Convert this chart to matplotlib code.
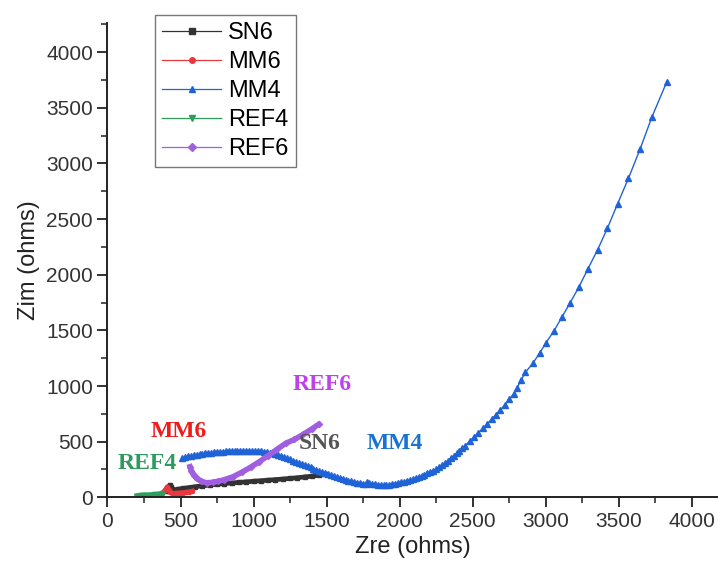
"""Nyquist plot (Zre vs Zim) for five impedance samples."""

import matplotlib

matplotlib.use("Agg")
import matplotlib.pyplot as plt  # noqa: E402
from matplotlib.lines import Line2D  # noqa: E402
from matplotlib.ticker import MultipleLocator  # noqa: E402

plt.rcParams["font.family"] = ["Liberation Sans", "DejaVu Sans"]

# --- data (ohms) ---
sn6_zre = [405, 415, 425, 432, 440, 455, 480, 520, 560, 600, 650, 700, 750, 800, 850,
           900, 950, 1000, 1050, 1100, 1150, 1200, 1250, 1300, 1350, 1400, 1450, 1490]
sn6_zim = [55, 85, 108, 90, 72, 66, 72, 80, 88, 95, 103, 110, 117, 123, 129,
           134, 139, 144, 149, 154, 159, 164, 170, 176, 183, 190, 198, 207]

mm6_zre = [360, 375, 390, 400, 410, 420, 430, 445, 460, 480, 500, 520, 540, 560, 580]
mm6_zim = [25, 35, 55, 75, 95, 70, 45, 35, 35, 38, 40, 42, 45, 50, 55]

mm4_zre = [510, 530, 550, 570, 590, 610, 630, 650, 670, 690, 710, 730, 750, 770, 790,
           810, 830, 850, 870, 890, 910, 930, 950, 970, 990, 1010, 1030, 1050, 1070,
           1090, 1110, 1130, 1150, 1170, 1190, 1210, 1230, 1250, 1270, 1290, 1310, 1330,
           1350, 1370, 1390, 1410, 1430, 1450, 1470, 1490, 1510, 1530, 1550, 1570, 1590,
           1610, 1630, 1650, 1670, 1690, 1710, 1730, 1750, 1770, 1780, 1790, 1810, 1830,
           1850, 1870, 1890, 1910, 1930, 1950, 1970, 1990, 2010, 2030, 2050, 2070, 2090,
           2110, 2130, 2150, 2170, 2190, 2210, 2230, 2250, 2270, 2290, 2310, 2330, 2350,
           2370, 2390, 2410, 2430, 2450, 2480, 2510, 2540, 2570, 2600, 2630, 2660, 2690,
           2720, 2750, 2780, 2805, 2832, 2862, 2912, 2958, 3003, 3058, 3111, 3168, 3227,
           3289, 3355, 3423, 3492, 3567, 3647, 3727, 3830]
mm4_zim = [355, 362, 367, 372, 377, 382, 386, 390, 394, 397, 400, 403, 406, 409, 411,
           413, 415, 417, 418, 419, 419, 420, 420, 420, 419, 418, 416, 413, 410,
           405, 400, 394, 386, 378, 370, 360, 350, 340, 330, 320, 310, 300,
           290, 279, 268, 257, 246, 236, 226, 216, 207, 198, 190, 182, 174,
           166, 158, 150, 144, 138, 132, 127, 122, 118, 135, 128, 120, 116,
           113, 111, 111, 112, 114, 118, 122, 127, 133, 139, 146, 153, 160,
           170, 180, 190, 202, 214, 227, 240, 255, 272, 290, 308, 328, 350,
           372, 394, 417, 441, 465, 503, 542, 581, 621, 660, 702, 744, 786,
           830, 880, 930, 985, 1054, 1124, 1204, 1294, 1390, 1498, 1618, 1749, 1888,
           2052, 2223, 2418, 2636, 2867, 3131, 3416, 3736]

ref4_zre = [200, 220, 240, 260, 280, 300, 320, 340, 360, 375]
ref4_zim = [15, 18, 20, 22, 22, 24, 26, 28, 32, 35]

ref6_zre = [565, 575, 590, 610, 640, 680, 720, 760, 800, 860, 920, 980, 1040, 1100,
            1160, 1220, 1280, 1340, 1400, 1445]
ref6_zim = [275, 235, 200, 170, 145, 130, 135, 145, 158, 185, 225, 270, 320, 375,
            430, 485, 520, 565, 615, 655]

# (label, x, y, colour, marker, line width, marker size) -- dense runs read as bands
series = [
    ("SN6", sn6_zre, sn6_zim, "#333333", "s", 3.4, 2.5),
    ("MM6", mm6_zre, mm6_zim, "#e8383d", "o", 3.5, 3.0),
    ("MM4", mm4_zre, mm4_zim, "#1f63d6", "^", 1.0, 4.5),
    ("REF4", ref4_zre, ref4_zim, "#2ca05a", "v", 3.4, 3.0),
    ("REF6", ref6_zre, ref6_zim, "#a15ee0", "D", 4.0, 3.0),
]

# in-plot tags: (text, zre, zim, colour)
tags = [
    ("REF6", 1470, 1010, "#c040f0"),
    ("MM6", 490, 590, "#ee1c1c"),
    ("SN6", 1450, 480, "#555555"),
    ("MM4", 1970, 485, "#1a73d0"),
    ("REF4", 270, 300, "#2e9a5e"),
]

fig = plt.figure(figsize=(7.18, 5.72), dpi=100)
ax = fig.add_axes([0.1497, 0.1306, 0.8503, 0.8287])

handles = []
for name, xs, ys, col, mk, lw, ms in series:
    ax.plot(xs, ys, color=col, marker=mk, markersize=ms, linewidth=lw)
    handles.append(Line2D([], [], color=col, marker=mk, markersize=4, linewidth=0.9,
                          label=name))

for text, x, y, col in tags:
    ax.text(x, y, text, color=col, fontsize=17, fontweight="bold",
            family=["Liberation Serif", "DejaVu Serif"], ha="center", va="center")

ax.set_xlim(0, 4180)
ax.set_ylim(0, 4260)
ax.xaxis.set_major_locator(MultipleLocator(500))
ax.xaxis.set_minor_locator(MultipleLocator(250))
ax.yaxis.set_major_locator(MultipleLocator(500))
ax.yaxis.set_minor_locator(MultipleLocator(250))
for side in ("top", "right"):
    ax.spines[side].set_visible(False)
for side in ("left", "bottom"):
    ax.spines[side].set_linewidth(1.4)
    ax.spines[side].set_color("#222222")
ax.tick_params(which="major", direction="out", length=7, width=1.3,
               labelsize=15, labelcolor="#333333", color="#222222")
ax.tick_params(which="minor", direction="out", length=4, width=1.1, color="#222222")

ax.set_xlabel("Zre (ohms)", fontsize=17, color="#222222")
ax.set_ylabel("Zim (ohms)", fontsize=17, color="#222222")

leg = ax.legend(handles=handles, loc="upper left", bbox_to_anchor=(0.078, 1.0175),
                borderaxespad=0, fontsize=17, frameon=True, fancybox=False,
                handlelength=2.5, labelspacing=0.3, handletextpad=0.3, borderpad=0.3)
leg.get_frame().set_edgecolor("#555555")
leg.get_frame().set_linewidth(1.0)

fig.savefig("out.png", dpi=100)
